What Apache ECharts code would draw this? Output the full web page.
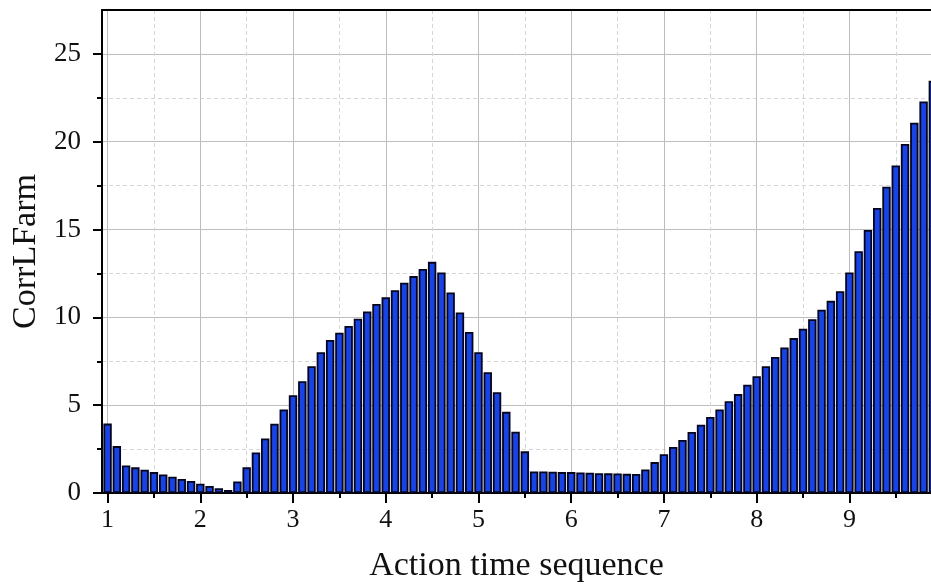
<!DOCTYPE html>
<html>
<head>
<meta charset="utf-8">
<script src="https://cdn.jsdelivr.net/npm/echarts@6/dist/echarts.min.js"></script>
<style>
  html, body { margin: 0; padding: 0; background: #fff; }
  #chart { width: 931px; height: 588px; }
</style>
</head>
<body>
<div id="chart"></div>
<script>
// Action time points (one bar per step of 0.1)
const actionTimes = [
  1.0, 1.1, 1.2, 1.3, 1.4, 1.5, 1.6, 1.7, 1.8, 1.9,
  2.0, 2.1, 2.2, 2.3, 2.4, 2.5, 2.6, 2.7, 2.8, 2.9,
  3.0, 3.1, 3.2, 3.3, 3.4, 3.5, 3.6, 3.7, 3.8, 3.9,
  4.0, 4.1, 4.2, 4.3, 4.4, 4.5, 4.6, 4.7, 4.8, 4.9,
  5.0, 5.1, 5.2, 5.3, 5.4, 5.5, 5.6, 5.7, 5.8, 5.9,
  6.0, 6.1, 6.2, 6.3, 6.4, 6.5, 6.6, 6.7, 6.8, 6.9,
  7.0, 7.1, 7.2, 7.3, 7.4, 7.5, 7.6, 7.7, 7.8, 7.9,
  8.0, 8.1, 8.2, 8.3, 8.4, 8.5, 8.6, 8.7, 8.8, 8.9,
  9.0, 9.1, 9.2, 9.3, 9.4, 9.5, 9.6, 9.7, 9.8, 9.9
];

// CorrLFarm value at each action time
const corrLFarm = [
  3.95, 2.67, 1.57, 1.46, 1.33, 1.19, 1.06, 0.93, 0.80, 0.68,
  0.53, 0.40, 0.27, 0.17, 0.66, 1.46, 2.31, 3.10, 3.94, 4.76,
  5.57, 6.36, 7.22, 8.01, 8.71, 9.13, 9.51, 9.92, 10.34, 10.76,
  11.14, 11.55, 11.97, 12.35, 12.75, 13.16, 12.56, 11.42, 10.28, 9.17,
  8.01, 6.88, 5.74, 4.62, 3.49, 2.37, 1.23, 1.23, 1.21, 1.19,
  1.19, 1.17, 1.16, 1.13, 1.12, 1.11, 1.09, 1.08, 1.34, 1.76,
  2.21, 2.62, 3.02, 3.47, 3.89, 4.33, 4.76, 5.22, 5.63, 6.17,
  6.65, 7.22, 7.75, 8.28, 8.82, 9.35, 9.89, 10.44, 10.94, 11.49,
  12.56, 13.77, 14.98, 16.23, 17.44, 18.65, 19.87, 21.08, 22.29, 23.47
];

// Tick labels
const xTicks = [1, 2, 3, 4, 5, 6, 7, 8, 9];
const yTicks = [0, 5, 10, 15, 20, 25];

const serif = '"Liberation Serif", "Times New Roman", serif';
const axisBlack = '#000';

const chart = echarts.init(document.getElementById('chart'), null, { renderer: 'canvas' });

chart.setOption({
  animation: false,
  backgroundColor: '#fff',
  grid: { left: 102, right: 0, top: 10, bottom: 95, containLabel: false },
  xAxis: [
    {
      type: 'value',
      min: 0.94,
      max: 9.88,
      splitNumber: 9,
      name: 'Action time sequence',
      nameLocation: 'middle',
      nameGap: 56,
      nameTextStyle: { fontFamily: serif, fontSize: 34, color: '#111' },
      axisLine: { show: true, onZero: false, lineStyle: { color: axisBlack, width: 2 } },
      axisTick: { show: true, inside: false, length: 10, customValues: xTicks, lineStyle: { color: axisBlack, width: 2 } },
      minorTick: { show: true, splitNumber: 2, length: 5, lineStyle: { color: axisBlack, width: 2 } },
      axisLabel: { customValues: xTicks, margin: 14, fontFamily: serif, fontSize: 26, color: '#111' },
      splitLine: { show: true, lineStyle: { color: '#bdbdbd', width: 1 } },
      minorSplitLine: { show: true, lineStyle: { color: '#d6d6d6', width: 1, type: [4, 3] } }
    },
    {
      type: 'value',
      position: 'top',
      min: 0.94,
      max: 9.88,
      axisLine: { show: true, onZero: false, lineStyle: { color: axisBlack, width: 2 } },
      axisTick: { show: false },
      axisLabel: { show: false },
      splitLine: { show: false }
    }
  ],
  yAxis: {
    type: 'value',
    min: 0,
    max: 27.5,
    splitNumber: 5,
    name: 'CorrLFarm',
    nameLocation: 'middle',
    nameGap: 58,
    nameTextStyle: { fontFamily: serif, fontSize: 34, color: '#111' },
    axisLine: { show: true, onZero: false, lineStyle: { color: axisBlack, width: 2 } },
    axisTick: { show: true, inside: false, length: 9, customValues: yTicks, lineStyle: { color: axisBlack, width: 2 } },
    minorTick: { show: true, splitNumber: 2, length: 5, lineStyle: { color: axisBlack, width: 2 } },
    axisLabel: { customValues: yTicks, margin: 21, fontFamily: serif, fontSize: 27, color: '#111' },
    splitLine: { show: true, lineStyle: { color: '#bdbdbd', width: 1 } },
    minorSplitLine: { show: true, lineStyle: { color: '#d6d6d6', width: 1, type: [4, 3] } }
  },
  series: [
    {
      type: 'bar',
      xAxisIndex: 0,
      data: actionTimes.map((t, i) => [t, corrLFarm[i]]),
      barWidth: 8.4,
      clip: true,
      itemStyle: { color: '#1844e6', borderColor: '#05051f', borderWidth: 1.8 }
    }
  ]
});
</script>
</body>
</html>
